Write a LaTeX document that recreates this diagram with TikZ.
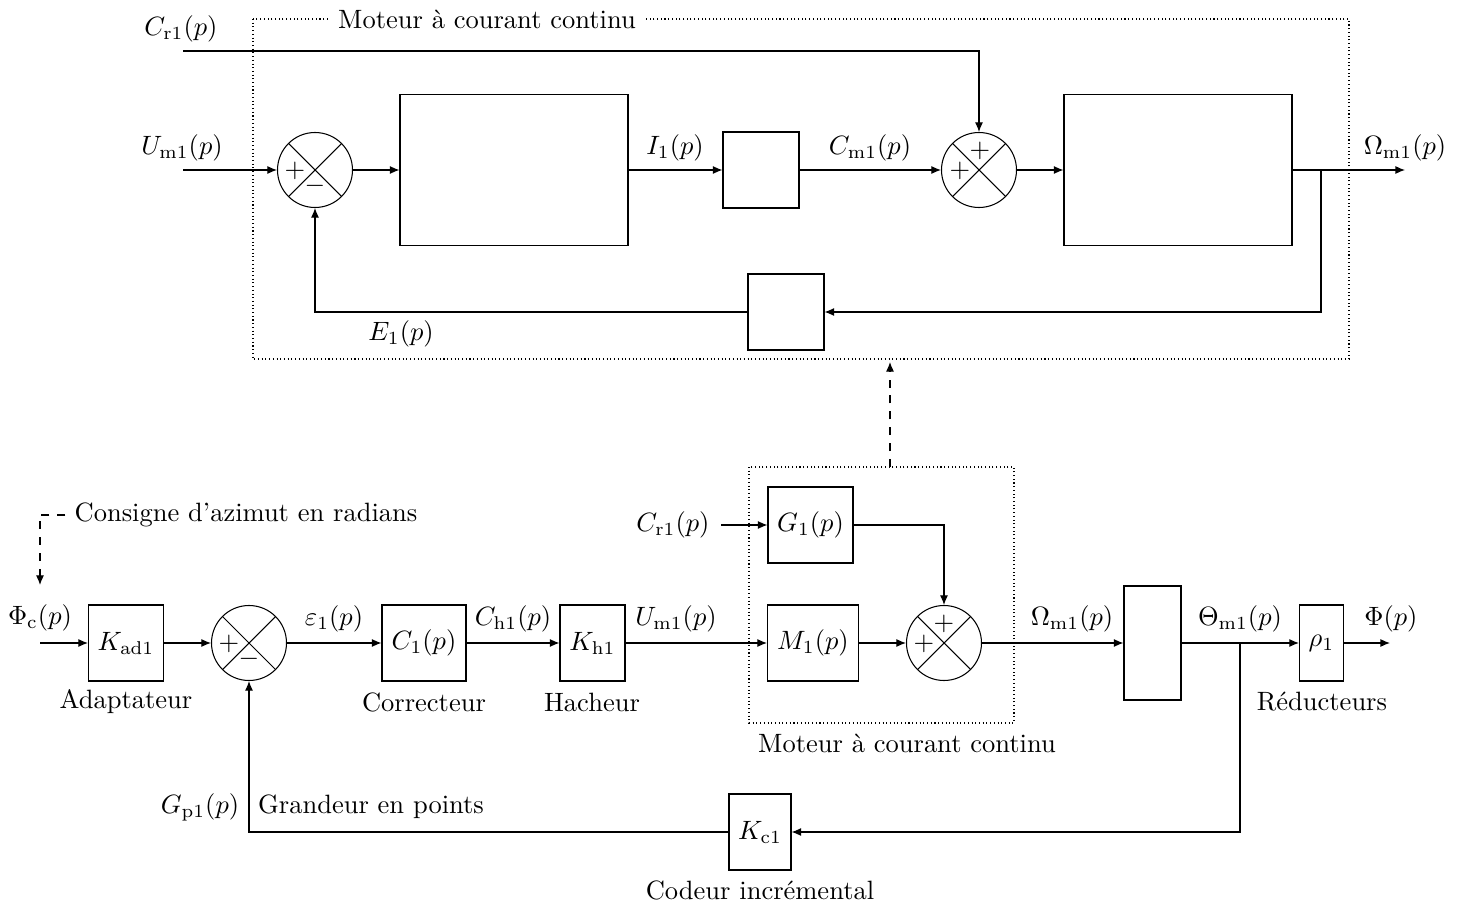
\documentclass[tikz,border=0pt]{standalone}
\usetikzlibrary{arrows.meta,calc}
\begin{document}
\begin{tikzpicture}[x=0.3774pt,y=-0.3774pt,
  arr/.style={-{Latex[length=3.6pt,width=3pt]}},
  blk/.style 2 args={draw, minimum width=#1*0.3774pt, minimum height=#2*0.3774pt, inner sep=0pt},
  sumj/.style={draw, circle, minimum size=75*0.3774pt, inner sep=0pt,
    path picture={\draw (path picture bounding box.north west) -- (path picture bounding box.south east)
      (path picture bounding box.south west) -- (path picture bounding box.north east);}},
  grp/.style={densely dotted},
  sgn/.style={inner sep=0pt}]
\useasboundingbox (0,0) rectangle (1463,904);

% ---------------- top diagram ----------------
\draw[grp] (253,19) rectangle (1349,359);
\node[fill=white, inner sep=3.5pt] (ttl) at (487,19) {Moteur à courant continu};

\node[sumj] (s1) at (315,170) {};
\node[sgn] at ($(s1)+(-20,1)$) {$+$};
\node[sgn] at ($(s1)+(0,16)$) {$-$};
\node[blk={228}{151}] (A) at (514,170) {};
\node[blk={76}{76}] (B) at (761,170) {};
\node[sumj] (s2) at (979,170) {};
\node[sgn] at ($(s2)+(1,-19)$) {$+$};
\node[sgn] at ($(s2)+(-19,1)$) {$+$};
\node[blk={228}{151}] (C) at (1178,170) {};
\node[blk={76}{76}] (D) at (786,312) {};

\coordinate (cr1s) at (183,51);
\coordinate (um1s) at (183,170);
\coordinate (omout) at (1405,170);
\coordinate (br1) at (1321,170);

\node (lcr1) at (181,29) {$C_{\mathrm{r1}}(p)$};
\node (lum1) at (182,148) {$U_{\mathrm{m1}}(p)$};
\node (li1) at (675,148) {$I_1(p)$};
\node (lcm1) at (870,148) {$C_{\mathrm{m1}}(p)$};
\node (lom1) at (1405,148) {$\Omega_{\mathrm{m1}}(p)$};
\node (le1) at (401,334) {$E_1(p)$};

\draw[arr] (cr1s) -| (s2.north);
\draw[arr] (um1s) -- (s1.west);
\draw[arr] (s1.east) -- (A.west);
\draw[arr] (A.east) -- (B.west);
\draw[arr] (B.east) -- (s2.west);
\draw[arr] (s2.east) -- (C.west);
\draw[arr] (C.east) -- (omout);
\draw[arr] (br1) |- (D.east);
\draw[arr] (D.west) -| (s1.south);

% ---------------- link ----------------
\coordinate (dlow) at (890,467);
\coordinate (dup) at (890,362);
\draw[dashed, arr] (dlow) -- (dup);

% ---------------- bottom diagram ----------------
\draw[grp] (749,467) rectangle (1014,723);
\node (lmcc) at (907,743) {Moteur à courant continu};

\node (cons) at (246,515) {Consigne d'azimut en radians};
\coordinate (phiarr) at (40,585);
\draw[dashed, arr] (cons.west) -| (phiarr);

\node (lphic) at (40,618) {$\Phi_{\mathrm{c}}(p)$};
\coordinate (phis) at (40,643);

\node[blk={75}{76}] (Kad) at (126,643) {$K_{\mathrm{ad1}}$};
\node (ladapt) at (126,702) {Adaptateur};
\node[sumj] (s3) at (249,643) {};
\node[sgn] at ($(s3)+(-20,1)$) {$+$};
\node[sgn] at ($(s3)+(0,16)$) {$-$};
\node[blk={84}{76}] (C1) at (424,643) {$C_1(p)$};
\node (lcorr) at (424,702) {Correcteur};
\node[blk={65}{76}] (Kh1) at (592.5,643) {$K_{\mathrm{h1}}$};
\node (lhach) at (592,702) {Hacheur};
\node[blk={91}{76}] (M1) at (813,643) {$M_1(p)$};
\node[blk={85}{76}] (G1) at (810.5,525) {$G_1(p)$};
\node[sumj] (s4) at (944,643) {};
\node[sgn] at ($(s4)+(0,-19)$) {$+$};
\node[sgn] at ($(s4)+(-20,1)$) {$+$};
\node[blk={57}{114}] (E) at (1152.5,643) {};
\node[blk={44}{76}] (rho) at (1321.5,643) {$\rho_1$};
\node (lred) at (1322,702) {Réducteurs};
\node[blk={62}{76}] (Kc1) at (760,832) {$K_{\mathrm{c1}}$};
\node (lcod) at (760,890) {Codeur incrémental};

\node (leps) at (334,619) {$\varepsilon_1(p)$};
\node (lch1) at (513,619) {$C_{\mathrm{h1}}(p)$};
\node (lum1b) at (676,619) {$U_{\mathrm{m1}}(p)$};
\node (lcr1b) at (673,525) {$C_{\mathrm{r1}}(p)$};
\node (lom1b) at (1072,619) {$\Omega_{\mathrm{m1}}(p)$};
\node (lthm1) at (1240,619) {$\Theta_{\mathrm{m1}}(p)$};
\node (lphi) at (1391,619) {$\Phi(p)$};
\node (lgp1) at (200,807) {$G_{\mathrm{p1}}(p)$};
\node (lgrand) at (371,807) {Grandeur en points};

\coordinate (cr1b) at (721,525);
\coordinate (phiout) at (1390,643);
\coordinate (br2) at (1240,643);

\draw[arr] (phis) -- (Kad.west);
\draw[arr] (Kad.east) -- (s3.west);
\draw[arr] (s3.east) -- (C1.west);
\draw[arr] (C1.east) -- (Kh1.west);
\draw[arr] (Kh1.east) -- (M1.west);
\draw[arr] (M1.east) -- (s4.west);
\draw[arr] (cr1b) -- (G1.west);
\draw[arr] (G1.east) -| (s4.north);
\draw[arr] (s4.east) -- (E.west);
\draw[arr] (E.east) -- (rho.west);
\draw[arr] (rho.east) -- (phiout);
\draw[arr] (br2) |- (Kc1.east);
\draw[arr] (Kc1.west) -| (s3.south);
\end{tikzpicture}
\end{document}
